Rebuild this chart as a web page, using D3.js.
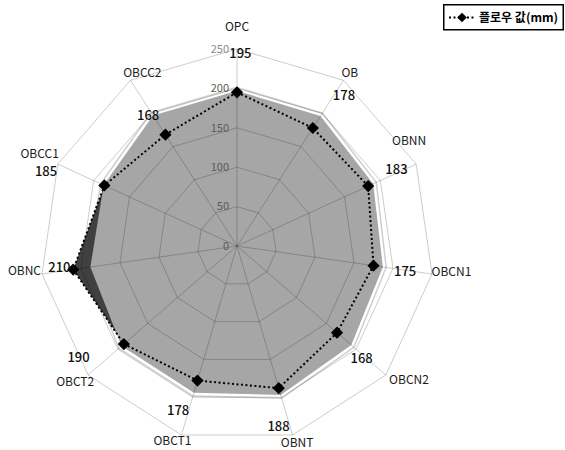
<!DOCTYPE html>
<html>
<head>
<meta charset="utf-8">
<script src="https://cdn.jsdelivr.net/npm/d3@7"></script>
<style>
  html, body { margin: 0; padding: 0; background: #fff; }
  svg { display: block; }
  text { font-family: "Noto Sans CJK KR", "Noto Sans", sans-serif; }
</style>
</head>
<body>
<svg id="chart" width="565" height="450"></svg>
<script>
// Flow values per section (mm)
const categories = ["OPC", "OB", "OBNN", "OBCN1", "OBCN2", "OBNT", "OBCT1", "OBCT2", "OBNC", "OBCC1", "OBCC2"];
const flowValues = [195, 178, 183, 175, 168, 188, 178, 190, 210, 185, 168];
// Shaded reference band behind the flow line
const bandValues = [197, 196, 190, 187, 192, 197, 194, 194, 188, 186, 197];
const tickValues = [0, 50, 100, 150, 200, 250];
const seriesName = "플로우 값(mm)";

// Label placement: [radius px, angle offset deg] relative to each spoke
const categoryLabelPlace = [[219,0],[207,0.3],[202,-7],[216,-1.3],[218,-3],[206,-0.6],[205,2],[211,1],[214,1.5],[218,0.6],[197,4]];
const valueLabelPlace = [[193,1.0],[185,2.6],[177,-1.2],[170,0.3],[168,1.2],[185,3.4],[175,3.3],[194,5.7],[179,1.2],[205,-3.2],[158,-1.5]];

const svg = d3.select("#chart");
const cx = 237, cy = 246, R = 197;
const n = categories.length;

const r = d3.scaleLinear().domain([0, 250]).range([0, R]);
const angle = d3.scaleLinear().domain([0, n]).range([0, 2 * Math.PI]);

const g = svg.append("g").attr("transform", `translate(${cx},${cy})`);

const polar = (rad, a) => [rad * Math.sin(a), -rad * Math.cos(a)];
const placeAt = (place, i) => polar(place[0], angle(i) + place[1] * Math.PI / 180);

const radial = d3.lineRadial()
  .angle((d, i) => angle(i))
  .radius(d => r(d))
  .curve(d3.curveLinearClosed);

// Grid rings and spokes
const gridColor = "rgba(0,0,0,0.2)";
function drawGrid(layer) {
  layer.selectAll("path.ring").data(tickValues.filter(t => t > 0)).join("path")
    .attr("class", "ring")
    .attr("d", t => radial(d3.range(n).map(() => t)))
    .attr("fill", "none").attr("stroke", gridColor).attr("stroke-width", 1);
  layer.selectAll("line.spoke").data(categories).join("line")
    .attr("class", "spoke")
    .attr("x1", 0).attr("y1", 0)
    .attr("x2", (d, i) => polar(r(250), angle(i))[0])
    .attr("y2", (d, i) => polar(r(250), angle(i))[1])
    .attr("stroke", gridColor).attr("stroke-width", 1);
}

// Band outline (light rim with white gap)
g.append("path").attr("d", radial(bandValues))
  .attr("fill", "none").attr("stroke", "#cfcfcf").attr("stroke-width", 8).attr("stroke-linejoin", "miter");
g.append("path").attr("d", radial(bandValues))
  .attr("fill", "none").attr("stroke", "#ffffff").attr("stroke-width", 5).attr("stroke-linejoin", "miter");

// Flow area (dark), then band fill
g.append("path").attr("d", radial(flowValues)).attr("fill", "#404040");
g.append("path").attr("d", radial(bandValues)).attr("fill", "#a6a6a6");

drawGrid(g.append("g"));

// Tick labels along the top spoke
g.selectAll("text.tick").data(tickValues).join("text")
  .attr("class", "tick")
  .attr("x", -8).attr("y", t => -r(t))
  .attr("dy", "0.35em")
  .attr("text-anchor", "end")
  .attr("font-size", 11)
  .attr("fill", t => t >= 250 ? "#8a8a8a" : "#5a5a5a")
  .text(t => t);

// Flow line
g.append("path").attr("d", radial(flowValues))
  .attr("fill", "none").attr("stroke", "#000").attr("stroke-width", 2)
  .attr("stroke-dasharray", "2,2.5");

// Diamond markers
const diamond = d3.symbol().type(d3.symbolDiamond2).size(95);
g.selectAll("path.marker").data(flowValues).join("path")
  .attr("class", "marker")
  .attr("d", diamond)
  .attr("transform", (d, i) => { const p = polar(r(d), angle(i)); return `translate(${p[0]},${p[1]})`; })
  .attr("fill", "#000");

// Category labels
g.selectAll("text.cat").data(categories).join("text")
  .attr("class", "cat")
  .attr("x", (d, i) => placeAt(categoryLabelPlace[i], i)[0])
  .attr("y", (d, i) => placeAt(categoryLabelPlace[i], i)[1])
  .attr("dy", "0.35em").attr("text-anchor", "middle")
  .attr("font-size", 12).attr("fill", "#1a1a1a")
  .text(d => d);

// Value labels
g.selectAll("text.val").data(flowValues).join("text")
  .attr("class", "val")
  .attr("x", (d, i) => placeAt(valueLabelPlace[i], i)[0])
  .attr("y", (d, i) => placeAt(valueLabelPlace[i], i)[1])
  .attr("dy", "0.35em").attr("text-anchor", "middle")
  .attr("font-size", 13).attr("font-weight", 500).attr("fill", "#111")
  .text(d => d);

// Legend
const lg = svg.append("g").attr("transform", "translate(443,4)");
lg.append("rect").attr("x", 0.75).attr("y", 0.75).attr("width", 119.5).attr("height", 25)
  .attr("fill", "#fff").attr("stroke", "#000").attr("stroke-width", 1.5);
lg.append("line").attr("x1", 6).attr("x2", 32).attr("y1", 13.5).attr("y2", 13.5)
  .attr("stroke", "#000").attr("stroke-width", 2).attr("stroke-dasharray", "2,2.5");
lg.append("path").attr("d", d3.symbol().type(d3.symbolDiamond2).size(60))
  .attr("transform", "translate(19,13.5)").attr("fill", "#000");
lg.append("text").attr("x", 36).attr("y", 13.5).attr("dy", "0.35em")
  .attr("font-size", 12).attr("font-weight", "bold").attr("fill", "#000")
  .text(seriesName);
</script>
</body>
</html>
